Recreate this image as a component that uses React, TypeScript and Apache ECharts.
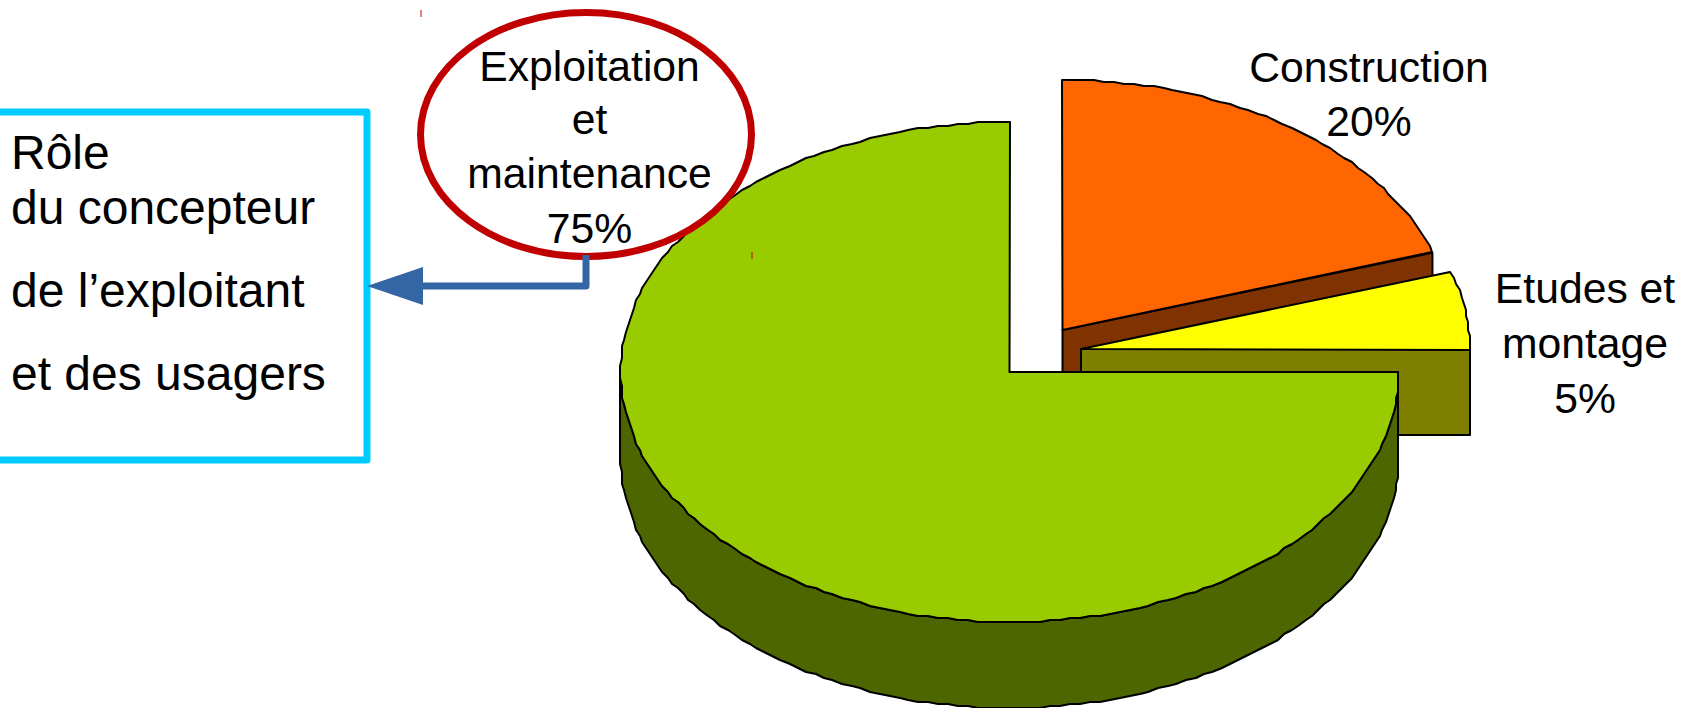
import React, { useEffect, useRef } from "react";
import * as echarts from "echarts";

const categories = ["Construction", "Etudes et montage", "Exploitation et maintenance"];
const shares = [20, 5, 75];
const constructionLabel = ["Construction", "20%"];
const etudesLabel = ["Etudes et", "montage", "5%"];
const exploitationLabel = ["Exploitation", "et", "maintenance", "75%"];
const roleLines = ["Rôle", "du concepteur", "de l’exploitant", "et des usagers"];

const W = 1684;
const H = 708;
const RX = 389;
const RY = 250;
const DEPTH = 86;
const FONT = "Liberation Sans";
const FS = 42.7;
const ROLE_FS = 48;

// per-slice apex and colours, in the order of the data
const sliceStyle = [
  { cx: 1062.5, cy: 330, top: "#ff6600", side: "#803300" },
  { cx: 1081, cy: 349, top: "#ffff00", side: "#808000" },
  { cx: 1009.5, cy: 372, top: "#99cc00", side: "#4d6600" },
];

const snap = (v: number) => Math.round(v / 2) * 2;
const rad = (d: number) => (d * Math.PI) / 180;

function renderSlice(params: any, api: any) {
  const i = params.dataIndex;
  const total = shares.reduce((a, b) => a + b, 0);
  const before = shares.slice(0, i).reduce((a, b) => a + b, 0);
  const value = api.value(0);
  const t0 = 90 - (before / total) * 360; // screen angle, going clockwise
  const t1 = t0 - (value / total) * 360;
  const s = sliceStyle[i];
  const at = (t: number, dy = 0, rough = true): number[] => {
    const x = s.cx + RX * Math.cos(rad(t));
    const y = s.cy - RY * Math.sin(rad(t)) + dy;
    return rough ? [snap(x), snap(y - dy) + dy] : [x, y];
  };
  const arc: number[] = [];
  const steps = Math.max(2, Math.round((t0 - t1) / 1.5));
  for (let k = 0; k <= steps; k++) arc.push(t0 - ((t0 - t1) * k) / steps);

  const line = { stroke: "#000", lineWidth: 2, lineJoin: "round" };
  const children: any[] = [];

  // the cut face on the clockwise end of the slice, unless it is edge-on
  if (Math.abs(Math.cos(rad(t1))) > 0.01) {
    children.push({
      type: "polygon",
      shape: {
        points: [
          [s.cx, s.cy],
          at(t1, 0, false),
          at(t1, DEPTH, false),
          [s.cx, s.cy + DEPTH],
        ],
      },
      style: { fill: s.side, ...line },
    });
  }

  // the rim, where the edge of the slice faces the viewer
  const front = arc.filter((t) => {
    const n = ((t % 360) + 360) % 360;
    return n >= 180 || n === 0;
  });
  if (front.length > 2) {
    const ordered = front.slice().sort((a, b) => b - a);
    children.push({
      type: "polygon",
      shape: {
        points: [
          ...ordered.map((t) => at(t, 0)),
          ...ordered.slice().reverse().map((t) => at(t, DEPTH)),
        ],
      },
      style: { fill: s.side, ...line },
    });
  }

  // the top face
  children.push({
    type: "polygon",
    shape: { points: [[s.cx, s.cy], ...arc.map((t) => at(t, 0))] },
    style: { fill: s.top, ...line },
  });

  return { type: "group", children };
}

const textLine = (str: string, x: number, baseline: number, align: string, size = FS) => ({
  type: "text",
  z: 20,
  x,
  y: baseline - size * 0.345,
  style: {
    text: str,
    textAlign: align,
    textVerticalAlign: "middle",
    verticalAlign: "middle",
    fill: "#000",
    fontFamily: FONT,
    fontSize: size,
  },
});

export default function App() {
  const ref = useRef<HTMLDivElement>(null);
  useEffect(() => {
    document.body.style.margin = "0";
    const chart = echarts.init(ref.current!, null, { renderer: "svg" });
    const roleY = [169, 224, 307, 390];
    const exploitY = [81, 134, 188, 243];
    const constructionY = [82, 136];
    const etudesY = [303, 358, 413];
    chart.setOption({
      animation: false,
      backgroundColor: "#fff",
      series: [
        {
          type: "custom",
          coordinateSystem: "none",
          silent: true,
          data: shares.map((v, i) => ({ name: categories[i], value: [v] })),
          renderItem: renderSlice,
          z: 2,
        },
      ],
      graphic: [
        {
          type: "rect",
          z: 10,
          shape: { x: -12, y: 112, width: 379, height: 348 },
          style: { fill: "#fff", stroke: "#00ccff", lineWidth: 7, lineJoin: "round" },
        },
        {
          type: "ellipse",
          z: 10,
          shape: { cx: 586, cy: 134.5, rx: 165.5, ry: 122 },
          style: { fill: "#fff", stroke: "#c00000", lineWidth: 7 },
        },
        {
          type: "polyline",
          z: 11,
          shape: { points: [[586, 255], [586, 286], [420, 286]] },
          style: { fill: "none", stroke: "#3465a4", lineWidth: 7, lineJoin: "round" },
        },
        {
          type: "polygon",
          z: 11,
          shape: { points: [[367, 286], [423, 267], [423, 305]] },
          style: { fill: "#3465a4" },
        },
        {
          type: "line",
          z: 11,
          shape: { x1: 421, y1: 10, x2: 421, y2: 17 },
          style: { stroke: "#c00000", lineWidth: 1 },
        },
        {
          type: "line",
          z: 11,
          shape: { x1: 752, y1: 252, x2: 752, y2: 259 },
          style: { stroke: "#c00000", lineWidth: 1 },
        },
        ...roleLines.map((l, i) => textLine(l, 11, roleY[i], "left", ROLE_FS)),
        ...exploitationLabel.map((l, i) => textLine(l, 589.5, exploitY[i], "center")),
        ...constructionLabel.map((l, i) => textLine(l, 1369, constructionY[i], "center")),
        ...etudesLabel.map((l, i) => textLine(l, 1585, etudesY[i], "center")),
      ],
    });
    return () => chart.dispose();
  }, []);
  return <div ref={ref} style={{ width: W, height: H }} />;
}
